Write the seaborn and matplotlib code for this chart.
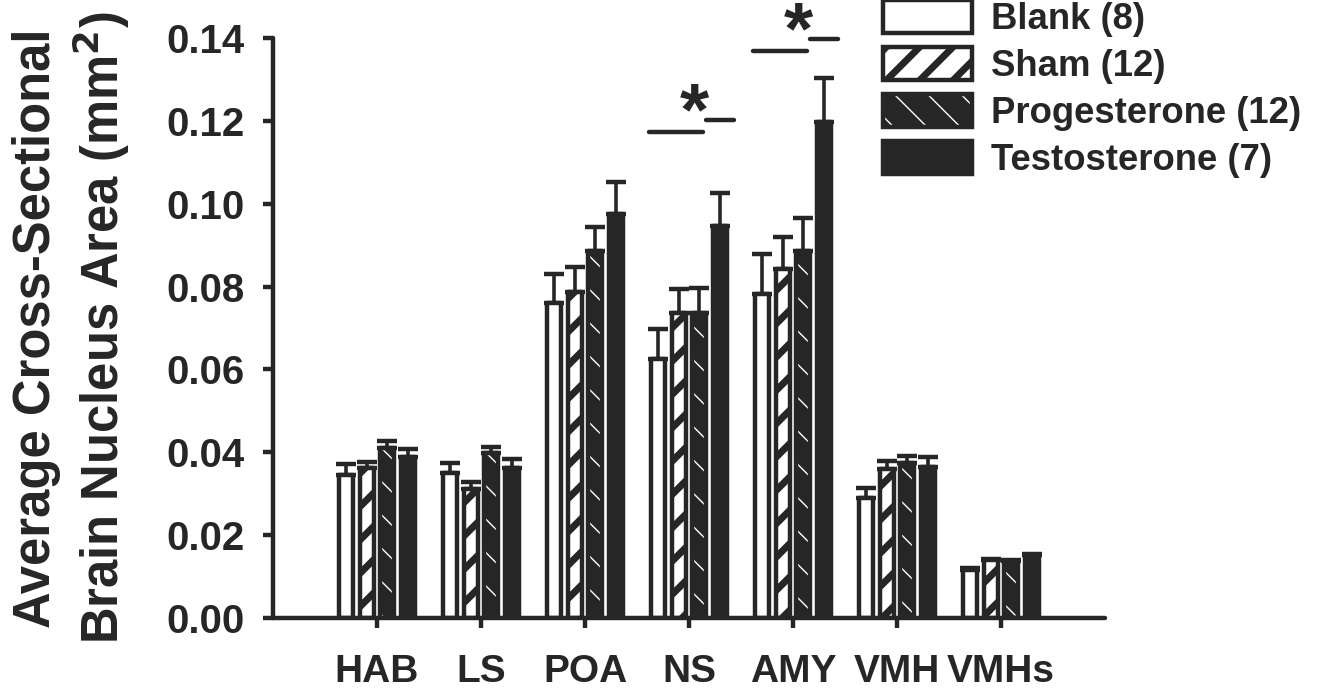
import numpy as np
import pandas as pd
import matplotlib
matplotlib.use("Agg")
import matplotlib.pyplot as plt
from matplotlib.patches import Rectangle, Patch
from matplotlib.container import BarContainer
from matplotlib.transforms import offset_copy
import seaborn as sns

# ---------------- data ----------------
regions = ["HAB", "LS", "POA", "NS", "AMY", "VMH", "VMHs"]
groups = ["Blank (8)", "Sham (12)", "Progesterone (12)", "Testosterone (7)"]

blank_mean = [0.0345, 0.0350, 0.0760, 0.0625, 0.0782, 0.0290, 0.0116]
blank_sem = [0.0027, 0.0024, 0.0070, 0.0073, 0.0097, 0.0024, 0.0004]
sham_mean = [0.0362, 0.0311, 0.0787, 0.0736, 0.0842, 0.0360, 0.0140]
sham_sem = [0.0015, 0.0017, 0.0060, 0.0058, 0.0078, 0.0019, 0.0003]
prog_mean = [0.0410, 0.0398, 0.0886, 0.0736, 0.0886, 0.0374, 0.0138]
prog_sem = [0.0017, 0.0015, 0.0058, 0.0061, 0.0080, 0.0017, 0.0003]
test_mean = [0.0389, 0.0362, 0.0975, 0.0946, 0.1197, 0.0365, 0.0152]
test_sem = [0.0019, 0.0022, 0.0077, 0.0080, 0.0106, 0.0024, 0.0003]

yticks = [0.00, 0.02, 0.04, 0.06, 0.08, 0.10, 0.12, 0.14]
sig_regions = ["NS", "AMY"]
sig_long_y = [0.1173, 0.1369]
sig_short_y = [0.1202, 0.1398]

means = [blank_mean, sham_mean, prog_mean, test_mean]
sems = [blank_sem, sham_sem, prog_sem, test_sem]

df = pd.DataFrame({
    "region": np.repeat([regions], len(groups), axis=0).ravel(),
    "group": np.repeat(groups, len(regions)),
    "value": np.concatenate(means),
})

# ---------------- style ----------------
sns.set_theme(style="ticks")
plt.rcParams["font.family"] = ["Liberation Sans", "DejaVu Sans"]
plt.rcParams["font.weight"] = "bold"
INK = "#262626"
SHAM_HLW = 5.0
PROG_HLW = 1.0

fig = plt.figure(figsize=(13.19, 6.92), dpi=100)
ax = fig.add_axes([273 / 1319, 1 - 618 / 692, (1105 - 273) / 1319, (618 - 38) / 692])

sns.barplot(data=df, x="region", y="value", hue="group", order=regions,
            hue_order=groups, errorbar=None, gap=0.32, legend=False, ax=ax,
            palette=["white", "white", INK, INK], saturation=1)

EDGE_LW = 3.2
styles = [
    dict(face="white", hatch=None),
    dict(face="white", hatch="/", hcol=INK, hlw=SHAM_HLW),
    dict(face=INK, hatch="\\", hcol="white", hlw=PROG_HLW),
    dict(face=INK, hatch=None),
]

bar_containers = [c for c in ax.containers if isinstance(c, BarContainer)]
for gi, cont in enumerate(bar_containers):
    st = styles[gi]
    for bi, bar in enumerate(cont.patches):
        x0, w, h = bar.get_x(), bar.get_width(), bar.get_height()
        bar.set_facecolor(st["face"])
        if st["hatch"]:
            bar.set_edgecolor(st["hcol"])
            bar.set_hatch(st["hatch"])
            bar.set_linewidth(0)
            if hasattr(bar, "set_hatch_linewidth"):
                bar.set_hatch_linewidth(st["hlw"])
            outline = Rectangle((x0, 0), w, h, fill=False, edgecolor=INK,
                                linewidth=EDGE_LW, zorder=bar.get_zorder() + 0.1,
                                joinstyle="round")
            ax.add_patch(outline)
        else:
            bar.set_edgecolor(INK)
            bar.set_linewidth(EDGE_LW)
            bar.set_joinstyle("round")
        xc = x0 + w / 2
        ax.errorbar([xc], [h], yerr=[[0], [sems[gi][bi]]], fmt="none",
                    ecolor=INK, elinewidth=2.6, capsize=7.5, capthick=3.2,
                    zorder=bar.get_zorder() - 0.5)

# significance markers
STAR_FS = 54
star_tr = offset_copy(ax.transData, fig=fig, y=-0.50 * STAR_FS, units="points")
for reg, ly, sy in zip(sig_regions, sig_long_y, sig_short_y):
    c = regions.index(reg)
    ax.plot([c - 0.38, c + 0.13], [ly, ly], color=INK, lw=3.2,
            solid_capstyle="round", clip_on=False)
    ax.plot([c + 0.16, c + 0.43], [sy, sy], color=INK, lw=3.2,
            solid_capstyle="round", clip_on=False)
    ax.text(c + 0.05, sy + 0.0056, "*", ha="center", va="baseline",
            fontsize=STAR_FS, fontweight="bold", color=INK, clip_on=False,
            transform=star_tr)

ax.set_xlim(-1, 7)
ax.set_ylim(0, 0.14)
ax.set_yticks(yticks)
ax.set_yticklabels([f"{v:.2f}" for v in yticks])
ax.set_xlabel("")
ax.set_ylabel("")
sns.despine(ax=ax)
for s in ["left", "bottom"]:
    ax.spines[s].set_linewidth(3.2)
    ax.spines[s].set_color(INK)
    ax.spines[s].set_capstyle("round")
ax.tick_params(axis="y", length=7.5, width=3.2, color=INK, labelsize=29,
               labelcolor=INK, pad=13)
ax.tick_params(axis="x", length=7, width=3.2, color=INK, labelsize=28,
               labelcolor=INK, pad=19)
for lab in ax.get_xticklabels() + ax.get_yticklabels():
    lab.set_fontweight("bold")

fig.text(72 / 1319, 1 - 328 / 692,
         "Average Cross-Sectional\nBrain Nucleus Area (mm$^\\mathbf{2}$)",
         rotation=90, ha="center", va="center", fontsize=36.5,
         fontweight="bold", color=INK, linespacing=1.2)

# legend
handles = [
    Patch(facecolor="white", edgecolor=INK, linewidth=EDGE_LW),
    (Patch(facecolor="white", edgecolor=INK, hatch="/", linewidth=0),
     Patch(fill=False, edgecolor=INK, linewidth=EDGE_LW)),
    (Patch(facecolor=INK, edgecolor="white", hatch="\\", linewidth=0),
     Patch(fill=False, edgecolor=INK, linewidth=EDGE_LW)),
    Patch(facecolor=INK, edgecolor=INK, linewidth=EDGE_LW),
]
leg = fig.legend(handles, groups, loc="upper left",
                 bbox_to_anchor=(883 / 1319, 1.0), frameon=False,
                 fontsize=26.3, handlelength=2.45, handleheight=1.0,
                 handletextpad=0.52, labelspacing=0.28, borderpad=0,
                 borderaxespad=0)
for t in leg.get_texts():
    t.set_fontweight("bold")
    t.set_color(INK)
for p in leg.findobj(Rectangle):
    if hasattr(p, "set_hatch_linewidth"):
        if p.get_hatch() == "/":
            p.set_hatch_linewidth(SHAM_HLW)
        elif p.get_hatch() == "\\":
            p.set_hatch_linewidth(PROG_HLW)

fig.savefig("out.png", dpi=100)
